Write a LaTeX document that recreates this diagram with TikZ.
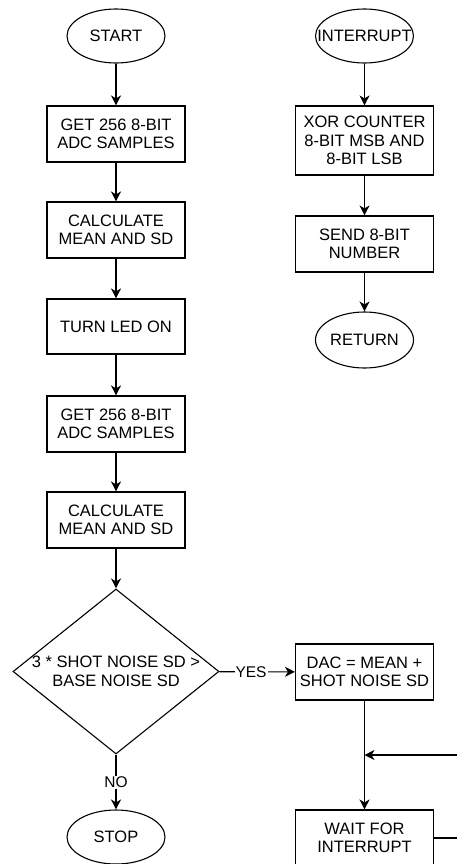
\documentclass[tikz,border=0pt]{standalone}
\usepackage{fontspec}
\setmainfont{Liberation Sans}
\usetikzlibrary{shapes.geometric, arrows.meta}

\begin{document}
\begin{tikzpicture}[x=1pt, y=-1pt, line width=1.1pt,
    font=\fontsize{16.5}{18.5}\selectfont,
    procbox/.style={draw, rectangle, minimum width=138pt, minimum height=56pt, align=center, inner sep=0pt},
    termnode/.style={draw, ellipse, minimum width=98pt, minimum height=54pt, inner sep=0pt},
    decnode/.style={draw, diamond, minimum width=206pt, minimum height=165pt, inner sep=0pt},
    every label/.style={align=center},
    flow/.style={-{Stealth[length=10pt, width=10pt, inset=3pt]}},
    edgelbl/.style={fill=white, inner sep=1pt, font=\fontsize{15.5}{18}\selectfont}]
    \useasboundingbox (0,0) rectangle (456,864);

    % main loop
    \node[termnode, label=center:START] (start) at (116,36) {};
    \node[procbox] (adc1) at (116,134) {GET 256 8-BIT\\ADC SAMPLES};
    \node[procbox] (calc1) at (116,230) {CALCULATE\\MEAN AND SD};
    \node[procbox, minimum height=55pt] (led) at (116,326.5) {TURN LED ON};
    \node[procbox] (adc2) at (116,424) {GET 256 8-BIT\\ADC SAMPLES};
    \node[procbox] (calc2) at (116,520) {CALCULATE\\MEAN AND SD};
    \node[decnode, label={center:3 * SHOT NOISE SD >\\BASE NOISE SD}] (check) at (116,671.5) {};
    \node[termnode, label=center:STOP] (stop) at (116,837) {};
    \node[procbox] (dac) at (364.5,672) {DAC = MEAN +\\SHOT NOISE SD};
    \node[procbox] (wait) at (364.5,838) {WAIT FOR\\INTERRUPT};
    \coordinate (merge) at (364.5,755);
    \coordinate (loopout) at (470,755);

    % interrupt routine
    \node[termnode, label=center:INTERRUPT] (intr) at (364.5,36) {};
    \node[procbox, minimum height=69pt] (xor) at (364.5,140.5) {XOR COUNTER\\8-BIT MSB AND\\8-BIT LSB};
    \node[procbox] (send) at (364.5,244) {SEND 8-BIT\\NUMBER};
    \node[termnode, minimum height=56pt, label=center:RETURN] (ret) at (364.5,340) {};

    \foreach \a/\b in {start/adc1, adc1/calc1, calc1/led, led/adc2, adc2/calc2,
                       calc2/check, intr/xor, xor/send, send/ret, dac/wait}
      \draw[flow] (\a) -- (\b);
    \draw[flow] (check) -- node[edgelbl, pos=0.42] {YES} (dac);
    \draw[flow] (check) -- node[edgelbl] {NO} (stop);
    \draw[flow] (wait.east) -| (loopout) -- (merge);
\end{tikzpicture}
\end{document}
